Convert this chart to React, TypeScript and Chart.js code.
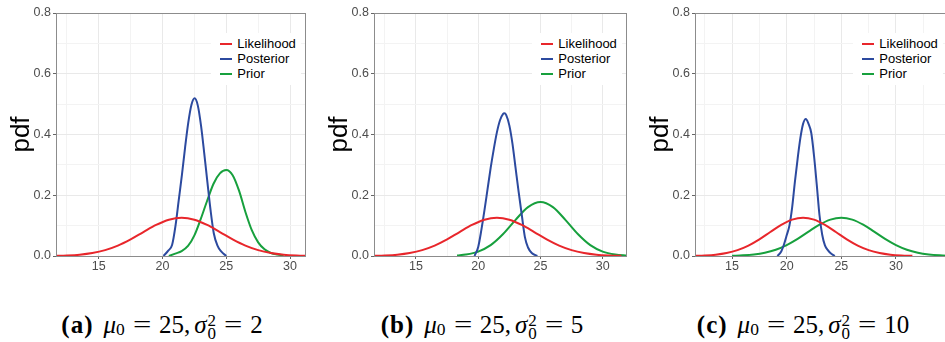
import React, { useEffect, useRef } from "react";
import { Chart, registerables } from "chart.js";

Chart.register(...registerables);

// ---------- data ----------
const seriesNames = ["Likelihood", "Posterior", "Prior"];
const seriesColors = ["#e8262b", "#2c4a9f", "#17a03d"];

const likelihoodX = [11.5, 12.5, 13.5, 14.5, 15.5, 16.5, 17.5, 18.5, 19.5, 20.5, 21.5, 22.5, 23.5, 24.5, 25.5, 26.5, 27.5, 28.5, 29.5, 30.5, 31.5];
const likelihoodY = [0.0007, 0.0019, 0.0045, 0.0099, 0.0194, 0.0343, 0.0548, 0.0789, 0.1023, 0.1196, 0.126, 0.1196, 0.1023, 0.0789, 0.0548, 0.0343, 0.0194, 0.0099, 0.0045, 0.0019, 0.0007];

const posteriorAX = [20.08, 20.45, 20.75, 21.02, 21.27, 21.52, 21.77, 22.02, 22.27, 22.52, 22.77, 23.02, 23.27, 23.52, 23.77, 24.02, 24.3, 24.6, 25.0];
const posteriorAY = [0, 0.018, 0.036, 0.1, 0.183, 0.266, 0.357, 0.439, 0.498, 0.519, 0.495, 0.429, 0.339, 0.243, 0.15, 0.075, 0.035, 0.015, 0];
const priorAX = [20.5, 21.0, 21.5, 22.0, 22.5, 23.0, 23.5, 24.0, 24.5, 25.0, 25.5, 26.0, 26.5, 27.0, 27.5, 28.0, 28.5, 29.0, 29.5];
const priorAY = [0, 0.008, 0.016, 0.033, 0.068, 0.122, 0.182, 0.238, 0.272, 0.283, 0.266, 0.215, 0.145, 0.085, 0.045, 0.022, 0.01, 0.005, 0.002];

const posteriorBX = [19.7, 20.0, 20.25, 20.5, 20.75, 21.0, 21.25, 21.5, 21.75, 22.0, 22.1, 22.25, 22.5, 22.75, 23.0, 23.25, 23.5, 23.75, 24.0, 24.3, 24.75];
const posteriorBY = [0, 0.03, 0.085, 0.15, 0.22, 0.29, 0.352, 0.407, 0.447, 0.468, 0.47, 0.464, 0.43, 0.37, 0.29, 0.21, 0.135, 0.062, 0.028, 0.01, 0];
const priorBX = [18.3, 19, 20, 21, 22, 23, 24, 25, 26, 27, 28, 29, 30, 31, 32];
const priorBY = [0.002, 0.0049, 0.0146, 0.0358, 0.0724, 0.119, 0.161, 0.178, 0.161, 0.119, 0.0724, 0.0358, 0.0146, 0.0049, 0.0013];

const posteriorCX = [19.15, 19.5, 19.75, 20.0, 20.25, 20.5, 20.75, 21.0, 21.25, 21.5, 21.75, 22.0, 22.25, 22.5, 22.75, 23.0, 23.25, 23.5, 23.75, 24.0, 24.4];
const posteriorCY = [0, 0.015, 0.038, 0.068, 0.1, 0.16, 0.244, 0.32, 0.388, 0.435, 0.451, 0.435, 0.405, 0.33, 0.235, 0.135, 0.07, 0.035, 0.02, 0.01, 0];
const priorCX = [15, 16, 17, 18, 19, 20, 21, 22, 23, 24, 25, 26, 27, 28, 29, 30, 31, 32, 33, 34, 35];
const priorCY = [0.0008, 0.0022, 0.0051, 0.0109, 0.0208, 0.0361, 0.0566, 0.0804, 0.1032, 0.1199, 0.126, 0.1199, 0.1032, 0.0804, 0.0566, 0.0361, 0.0208, 0.0109, 0.0051, 0.0022, 0.0008];

const xTickValues = [12.5, 15, 17.5, 20, 22.5, 25, 27.5, 30, 32.5];
const xTickLabels = ["", "15", "", "20", "", "25", "", "30", ""];
const yTickValues = [0, 0.1, 0.2, 0.3, 0.4, 0.5, 0.6, 0.7, 0.8];
const yTickLabels = ["0.0", "", "0.2", "", "0.4", "", "0.6", "", "0.8"];
const yAxisTitle = "pdf";

const captionLabels = ["a", "b", "c"];
const captionMu = ["25", "25", "25"];
const captionSigma2 = ["2", "5", "10"];

// ---------- layout ----------
const FONT = "'Liberation Sans', Arial, Helvetica, sans-serif";
const SERIF = "'Liberation Serif', 'Times New Roman', serif";
const TOP = 13;
const BOTTOM = 256;
const CANVAS_H = 290;
const YAXIS_W = 56;
const RIGHT_PAD = 4;

const panels = [
  { chartLeft: 56, chartRight: 306, xMin: 11.65, xMax: 31.25, posX: posteriorAX, posY: posteriorAY, priX: priorAX, priY: priorAY, capCenter: 162 },
  { chartLeft: 374, chartRight: 627, xMin: 11.63, xMax: 31.95, posX: posteriorBX, posY: posteriorBY, priX: priorBX, priY: priorBY, capCenter: 482 },
  { chartLeft: 695, chartRight: 948, xMin: 11.61, xMax: 34.76, posX: posteriorCX, posY: posteriorCY, priX: priorCX, priY: priorCY, capCenter: 803 },
];

const zip = (xs: number[], ys: number[]) => xs.map((x, i) => ({ x, y: ys[i] }));

const framePlugin = {
  id: "frame",
  afterDraw(chart: any) {
    const { ctx, chartArea } = chart;
    ctx.save();
    ctx.strokeStyle = "#8c8c8c";
    ctx.lineWidth = 1;
    ctx.strokeRect(Math.round(chartArea.left) + 0.5, Math.round(chartArea.top) + 0.5, Math.round(chartArea.right - chartArea.left) - 1, Math.round(chartArea.bottom - chartArea.top));
    ctx.restore();
  },
};

function Panel({ p }: { p: any }) {
  const ref = useRef<HTMLCanvasElement | null>(null);
  const canvasLeft = p.chartLeft - YAXIS_W;
  const canvasW = p.chartRight - canvasLeft + RIGHT_PAD;

  useEffect(() => {
    if (!ref.current) return;
    const seriesX = [likelihoodX, p.posX, p.priX];
    const seriesY = [likelihoodY, p.posY, p.priY];
    const chart = new Chart(ref.current, {
      type: "line",
      data: {
        datasets: seriesNames.map((name, i) => ({
          label: name,
          data: zip(seriesX[i], seriesY[i]),
          borderColor: seriesColors[i],
          backgroundColor: seriesColors[i],
          borderWidth: 2,
          pointRadius: 0,
          cubicInterpolationMode: "monotone" as const,
          fill: false,
        })),
      },
      options: {
        responsive: false,
        animation: false,
        devicePixelRatio: 1,
        layout: { padding: { left: 0, top: TOP, right: RIGHT_PAD, bottom: 0 } },
        plugins: { legend: { display: false }, tooltip: { enabled: false } },
        scales: {
          x: {
            type: "linear",
            min: p.xMin,
            max: p.xMax,
            afterBuildTicks: (s: any) => {
              s.ticks = xTickValues.filter((v) => v >= p.xMin && v <= p.xMax).map((v) => ({ value: v }));
            },
            afterFit: (s: any) => {
              s.height = CANVAS_H - BOTTOM;
            },
            ticks: {
              autoSkip: false,
              maxRotation: 0,
              padding: 0,
              color: "#4d4d4d",
              font: { family: FONT, size: 12.5 },
              callback: (v: any) => xTickLabels[xTickValues.indexOf(Number(v))] ?? "",
            },
            grid: {
              color: (c: any) => (xTickLabels[xTickValues.indexOf(c.tick?.value)] ? "#e9e9e9" : "#f3f3f3"),
              tickColor: (c: any) => (xTickLabels[xTickValues.indexOf(c.tick?.value)] ? "#666666" : "rgba(0,0,0,0)"),
              tickLength: 3,
              lineWidth: 1,
            },
            border: { display: false },
          },
          y: {
            type: "linear",
            min: 0,
            max: 0.8,
            afterBuildTicks: (s: any) => {
              s.ticks = yTickValues.map((v) => ({ value: v }));
            },
            afterFit: (s: any) => {
              s.width = YAXIS_W;
            },
            ticks: {
              autoSkip: false,
              padding: 2,
              color: "#4d4d4d",
              font: { family: FONT, size: 12.5 },
              callback: (_v: any, i: number) => yTickLabels[i] ?? "",
            },
            grid: {
              color: (c: any) => (c.index % 2 === 0 ? "#e9e9e9" : "#f3f3f3"),
              tickColor: (c: any) => (c.index % 2 === 0 ? "#666666" : "rgba(0,0,0,0)"),
              tickLength: 3,
              lineWidth: 1,
            },
            border: { display: false },
            title: {
              display: true,
              text: yAxisTitle,
              color: "#000000",
              font: { family: FONT, size: 26 },
              padding: { top: 6, bottom: 0 },
            },
          },
        },
      },
      plugins: [framePlugin],
    } as any);
    return () => chart.destroy();
  }, []);

  const legendLeft = p.chartRight - 95;
  return (
    <>
      <canvas
        ref={ref}
        width={canvasW}
        height={CANVAS_H}
        style={{ position: "absolute", left: canvasLeft, top: 0, width: canvasW, height: CANVAS_H }}
      />
      <div
        style={{
          position: "absolute",
          left: legendLeft,
          top: 33,
          width: 90,
          height: 52,
          background: "#ffffff",
        }}
      >
        {seriesNames.map((name, i) => (
          <div key={name} style={{ position: "absolute", left: 0, top: 11 + i * 15 - 8, height: 16, width: 90 }}>
            <div
              style={{
                position: "absolute",
                left: 8.5,
                top: 7,
                width: 12,
                height: 2,
                background: seriesColors[i],
              }}
            />
            <div
              style={{
                position: "absolute",
                left: 26.3,
                top: 0,
                lineHeight: "16px",
                fontFamily: FONT,
                fontSize: 13,
                color: "#000",
                whiteSpace: "nowrap",
              }}
            >
              {name}
            </div>
          </div>
        ))}
      </div>
    </>
  );
}

const Eq = () => (
  <span style={{ display: "inline-block", margin: "0 0.4em", transform: "scaleX(1.3)" }}>=</span>
);

function Caption({ i, center }: { i: number; center: number }) {
  return (
    <div
      style={{
        position: "absolute",
        left: center - 160,
        width: 320,
        top: 310,
        textAlign: "center",
        fontFamily: SERIF,
        fontSize: 25,
        lineHeight: "30px",
        color: "#000",
        whiteSpace: "nowrap",
      }}
    >
      <b style={{ letterSpacing: "0.04em" }}>({captionLabels[i]})</b>
      <span style={{ display: "inline-block", width: 10 }} />
      <i>μ</i>
      <span style={{ fontSize: "0.7em", position: "relative", top: "0.14em" }}>0</span>
      <Eq />
      {captionMu[i]}
      {","}
      <span style={{ display: "inline-block", width: 4 }} />
      <i>σ</i>
      <span
        style={{
          display: "inline-flex",
          flexDirection: "column",
          fontSize: "0.68em",
          lineHeight: 0.78,
          verticalAlign: "0.4em",
          marginLeft: 1,
        }}
      >
        <span>2</span>
        <span>0</span>
      </span>
      <Eq />
      {captionSigma2[i]}
    </div>
  );
}

export default function App() {
  return (
    <div
      style={{
        position: "fixed",
        left: 0,
        top: 0,
        width: 945,
        height: 342,
        overflow: "hidden",
        background: "#ffffff",
      }}
    >
      {panels.map((p, i) => (
        <Panel key={i} p={p} />
      ))}
      {panels.map((p, i) => (
        <Caption key={"c" + i} i={i} center={p.capCenter} />
      ))}
    </div>
  );
}
